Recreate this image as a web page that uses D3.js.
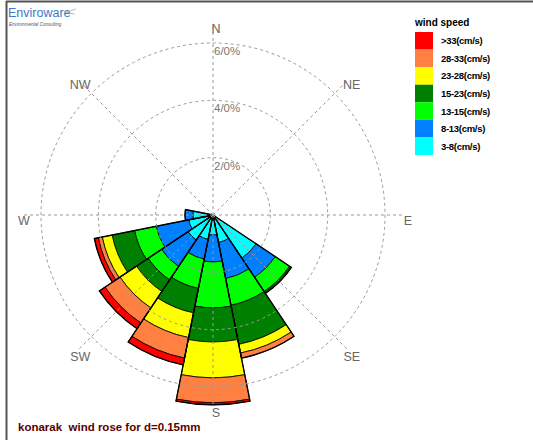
<!DOCTYPE html>
<html>
<head>
<meta charset="utf-8">
<script src="https://cdn.jsdelivr.net/npm/d3@7"></script>
<style>
  body { margin: 0; background: #fff; }
  svg { display: block; font-family: "Liberation Sans", Arial, sans-serif; }
</style>
</head>
<body>
<svg id="rose" width="533" height="440"></svg>
<script>
// 16 compass sectors, clockwise from north
const directions = ["N", "NNE", "NE", "ENE", "E", "ESE", "SE", "SSE", "S", "SSW", "SW", "WSW", "W", "WNW", "NW", "NNW"];

// speed classes, inner to outer
const speedBins = ["3-8(cm/s)", "8-13(cm/s)", "13-15(cm/s)", "15-23(cm/s)", "23-28(cm/s)", "28-33(cm/s)", ">33(cm/s)"];
const binColors = ["#00ffff", "#0080ff", "#00ff00", "#008000", "#ffff00", "#ff8040", "#ff0000"];

// frequency (%) per direction for each speed class
const freq3to8   = [0, 0, 0, 0, 0, 0, 1.81, 0.98, 0.70, 0.87, 1.05, 0.87, 0.70, 0, 0, 0];
const freq8to13  = [0, 0, 0, 0, 0, 0, 0.80, 1.28, 0.94, 0.70, 1.11, 1.15, 0.28, 0, 0, 0];
const freq13to15 = [0, 0, 0, 0, 0, 0, 0.60, 0.95, 1.60, 1.04, 0.56, 0.77, 0, 0, 0, 0];
const freq15to23 = [0, 0, 0, 0, 0, 0, 0.05, 1.39, 1.19, 0.87, 0.49, 0.80, 0, 0, 0, 0];
const freq23to28 = [0, 0, 0, 0, 0, 0, 0.03, 0.31, 1.25, 0.88, 0.69, 0.35, 0, 0, 0, 0];
const freq28to33 = [0, 0, 0, 0, 0, 0, 0, 0.18, 0.87, 0.73, 0.63, 0.14, 0, 0, 0, 0];
const freqOver33 = [0, 0, 0, 0, 0, 0, 0, 0, 0.07, 0.24, 0.24, 0.14, 0, 0, 0, 0];

const ringValues = [2, 4, 6];
const ringLabels = ["2/0%", "4/0%", "6/0%"];
const compassLabels = ["N", "NE", "E", "SE", "S", "SW", "W", "NW"];

const svg = d3.select("#rose");
const cx = 213, cy = 215;
const r = d3.scaleLinear().domain([0, 6]).range([0, 172]);
const sector = (2 * Math.PI) / directions.length;
const angle = d3.scaleBand().domain(directions).range([-sector / 2, 2 * Math.PI - sector / 2]);

// frame
svg.append("line").attr("x1", 6).attr("y1", 1.5).attr("x2", 533).attr("y2", 1.5)
  .attr("stroke", "#555").attr("stroke-width", 2);
svg.append("line").attr("x1", 6.5).attr("y1", 1).attr("x2", 6.5).attr("y2", 440)
  .attr("stroke", "#555").attr("stroke-width", 2);

// logo
svg.append("text").attr("x", 8).attr("y", 17).attr("fill", "#3c78c8")
  .style("font-size", "12.5px").text("Enviroware");
svg.append("text").attr("x", 9).attr("y", 25.5).attr("fill", "#555")
  .style("font-size", "4.6px").style("font-style", "italic").text("Environmental Consulting");
svg.append("path").attr("d", "M64,13 Q70,11 76,9 M67,12 Q71,14 75,14")
  .attr("fill", "none").attr("stroke", "#aaa").attr("stroke-width", 0.8);

const g = svg.append("g").attr("transform", `translate(${cx},${cy})`);

// stack the speed classes
const series = [freq3to8, freq8to13, freq13to15, freq15to23, freq23to28, freq28to33, freqOver33];
const rows = directions.map((d, i) => {
  const row = { dir: d };
  speedBins.forEach((b, j) => (row[b] = series[j][i]));
  return row;
});
const stacked = d3.stack().keys(speedBins)(rows);

const arc = d3.arc()
  .innerRadius((d) => r(d[0]))
  .outerRadius((d) => r(d[1]))
  .startAngle((d) => angle(d.data.dir))
  .endAngle((d) => angle(d.data.dir) + sector);

g.selectAll("g.band")
  .data(stacked)
  .join("g")
  .attr("class", "band")
  .attr("fill", (s, i) => binColors[i])
  .selectAll("path")
  .data((s) => s.filter((d) => d[1] - d[0] > 0))
  .join("path")
  .attr("d", arc)
  .attr("stroke", "#000")
  .attr("stroke-width", 0.8);

// petal outline
const totals = rows.map((row) => ({ dir: row.dir, total: d3.sum(speedBins, (b) => row[b]) }));
g.selectAll("path.outline")
  .data(totals.filter((d) => d.total > 0))
  .join("path")
  .attr("class", "outline")
  .attr("d", d3.arc()
    .innerRadius(0)
    .outerRadius((d) => r(d.total))
    .startAngle((d) => angle(d.dir))
    .endAngle((d) => angle(d.dir) + sector))
  .attr("fill", "none")
  .attr("stroke", "#000")
  .attr("stroke-width", 1.3);

// grid on top
g.selectAll("circle.ring")
  .data(ringValues)
  .join("circle")
  .attr("class", "ring")
  .attr("r", (d) => r(d))
  .attr("fill", "none")
  .attr("stroke", "#999")
  .attr("stroke-dasharray", "3,3");

const spokeAngle = (i) => (i * Math.PI) / 4;
g.selectAll("line.spoke")
  .data(compassLabels)
  .join("line")
  .attr("class", "spoke")
  .attr("x2", (d, i) => 190 * Math.sin(spokeAngle(i)))
  .attr("y2", (d, i) => -190 * Math.cos(spokeAngle(i)))
  .attr("stroke", "#999")
  .attr("stroke-dasharray", "3,3");

g.selectAll("text.compass")
  .data(compassLabels)
  .join("text")
  .attr("class", "compass")
  .attr("x", (d, i) => 192 * Math.sin(spokeAngle(i)) + 3)
  .attr("y", (d, i) => -192 * Math.cos(spokeAngle(i)) + 10)
  .attr("text-anchor", "middle")
  .attr("fill", "#666")
  .style("font-size", "12.5px")
  .text((d) => d);

g.selectAll("text.ringlabel")
  .data(ringValues)
  .join("text")
  .attr("class", "ringlabel")
  .attr("x", 1)
  .attr("y", (d) => -r(d) + 12)
  .attr("fill", "#777")
  .style("font-size", "11.5px")
  .text((d, i) => ringLabels[i]);

// legend
const legend = svg.append("g").attr("transform", "translate(415,0)");
legend.append("text").attr("x", 0).attr("y", 26).attr("fill", "#000")
  .style("font-size", "10px").style("font-weight", "bold").text("wind speed");
const legendOrder = speedBins.map((b, i) => i).reverse();
const ly = d3.scaleBand().domain(legendOrder).range([32, 155]);
legend.selectAll("rect")
  .data(legendOrder)
  .join("rect")
  .attr("x", 0)
  .attr("y", (d) => ly(d))
  .attr("width", 18)
  .attr("height", ly.bandwidth())
  .attr("fill", (d) => binColors[d]);
legend.selectAll("text.lab")
  .data(legendOrder)
  .join("text")
  .attr("class", "lab")
  .attr("x", 26)
  .attr("y", (d) => ly(d) + ly.bandwidth() / 2 + 3.5)
  .attr("fill", "#000")
  .style("font-size", "9.5px")
  .style("font-weight", "bold")
  .style("letter-spacing", "-0.3px")
  .text((d) => speedBins[d]);

// caption
svg.append("text").attr("x", 18).attr("y", 431).attr("fill", "#5a0000")
  .style("font-size", "11.5px").style("font-weight", "bold")
  .attr("xml:space", "preserve")
  .text("konarak  wind rose for d=0.15mm");
</script>
</body>
</html>
